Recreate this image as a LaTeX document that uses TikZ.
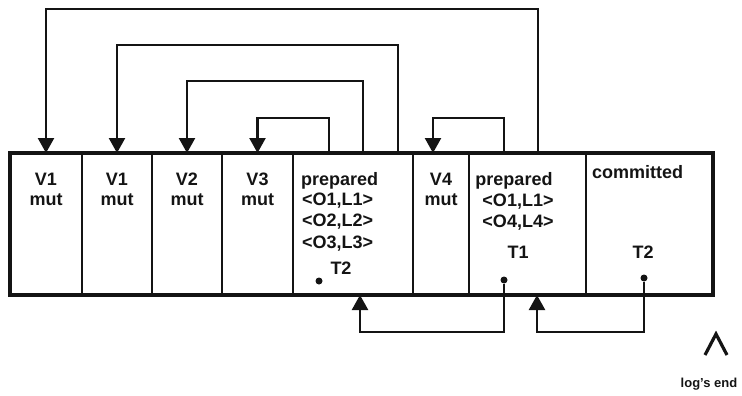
\documentclass[tikz,border=0pt]{standalone}
\usepackage{fontspec}
\setmainfont{Liberation Sans}
\usetikzlibrary{arrows.meta,positioning}
\definecolor{LogInk}{HTML}{141414}
\tikzset{
  cell/.style={draw=LogInk,line width=2pt,minimum height=142pt,inner sep=0pt,outer sep=0pt},
  txt/.style={text=LogInk,font=\bfseries\fontsize{18}{20}\selectfont,inner sep=0pt},
  link/.style={draw=LogInk,line width=2.3pt,-{Triangle[length=15pt,width=16pt]}},
  dot/.style={circle,fill=LogInk,inner sep=0pt,minimum size=7pt}
}
\begin{document}
\begin{tikzpicture}[x=1pt,y=-1pt]
\useasboundingbox (0,0) rectangle (742,396);
% log records
\node[cell,minimum width=72pt] (v1a) at (46,224) {}; \node[cell,minimum width=70pt] (v1b) at (117,224) {}; \node[cell,minimum width=70pt] (v2) at (187,224) {}; \node[cell,minimum width=71pt] (v3) at (257.5,224) {}; \node[cell,minimum width=120pt] (prepA) at (353,224) {}; \node[cell,minimum width=56pt] (v4) at (441,224) {}; \node[cell,minimum width=117pt] (prepB) at (527.5,224) {}; \node[cell,minimum width=127pt] (commit) at (649.5,224) {};
\draw[LogInk,line width=3.2pt] (v1a.north west) rectangle (commit.south east);
% record texts
\node[txt,anchor=base] (v1aname) at (46,185) {V1}; \node[txt,anchor=base] (v1amut) at (46,205) {mut};
\node[txt,anchor=base] (v1bname) at (117,185) {V1}; \node[txt,anchor=base] (v1bmut) at (117,205) {mut};
\node[txt,anchor=base] (v2name) at (187,185) {V2}; \node[txt,anchor=base] (v2mut) at (187,205) {mut};
\node[txt,anchor=base] (v3name) at (257.5,185) {V3}; \node[txt,anchor=base] (v3mut) at (257.5,205) {mut};
\node[txt,anchor=base] (v4name) at (441,185) {V4}; \node[txt,anchor=base] (v4mut) at (441,205) {mut};
\node[txt,anchor=base west] (prepAhead) at (301,185) {prepared};
\node[txt,anchor=base west] (prepAo1) at (302,205) {<O1,L1>};
\node[txt,anchor=base west] (prepAo2) at (302,226) {<O2,L2>};
\node[txt,anchor=base west] (prepAo3) at (302,248) {<O3,L3>};
\node[txt,anchor=base] (prepAtx) at (341,274) {T2};
\node[txt,anchor=base] (prepBhead) at (514,185) {prepared};
\node[txt,anchor=base] (prepBo1) at (518,206) {<O1,L1>};
\node[txt,anchor=base] (prepBo4) at (518,227) {<O4,L4>};
\node[txt,anchor=base] (prepBtx) at (518,258) {T1};
\node[txt,anchor=base west] (commithead) at (592,178) {committed};
\node[txt,anchor=base] (committx) at (643,258) {T2};
% backward pointers
\draw[link] ([xshift=-24pt]prepA.north) -- ++(0,-35) -| (v3.north);
\draw[link] ([xshift=10pt]prepA.north) -- ++(0,-72) -| (v2.north);
\draw[link] ([xshift=45pt]prepA.north) -- ++(0,-108) -| (v1b.north);
\draw[link] ([xshift=10.5pt]prepB.north) -- ++(0,-144) -| (v1a.north);
\draw[link] ([xshift=-23.5pt]prepB.north) -- ++(0,-35) -| ([xshift=-8pt]v4.north);
\node[dot] (prepAdot) at (319,281) {};
\node[dot] (prepBdot) at (504,280) {};
\node[dot] (commitdot) at (644,278) {};
\draw[link] (prepBdot) -- ++(0,52) -| ([xshift=7pt]prepA.south);
\draw[link] (commitdot) -- ++(0,54) -| ([xshift=9.5pt]prepB.south);
% log's end marker
\draw[LogInk,line width=3.2pt] (705,355) -- (716,334) -- (727,355);
\node[txt,font=\bfseries\fontsize{13}{15}\selectfont,anchor=base] (logend) at (709,387) {log's end};
\end{tikzpicture}
\end{document}
